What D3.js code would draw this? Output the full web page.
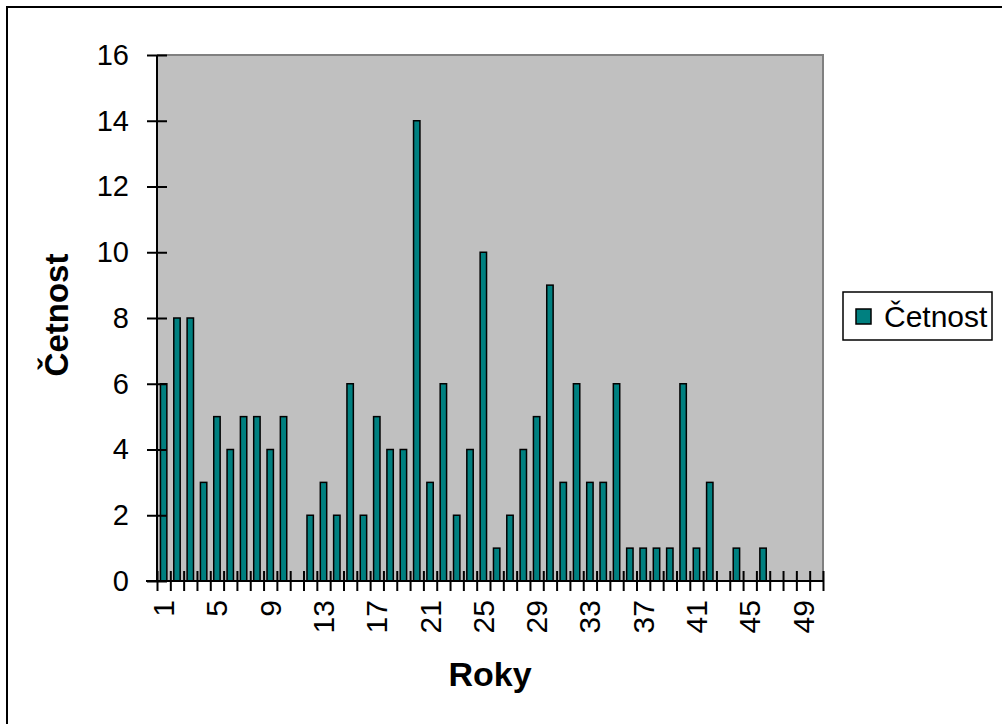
<!DOCTYPE html>
<html>
<head>
<meta charset="utf-8">
<script src="https://cdn.jsdelivr.net/npm/d3@7"></script>
<style>
  body { margin: 0; background: #fff; }
  svg text { font-family: "Liberation Sans", Arial, sans-serif; }
</style>
</head>
<body>
<div id="chart"></div>
<script>
// years 1..50 and their counts
const years = d3.range(1, 51);
const counts = [6, 8, 8, 3, 5, 4, 5, 5, 4, 5,
                0, 2, 3, 2, 6, 2, 5, 4, 4, 14,
                3, 6, 2, 4, 10, 1, 2, 4, 5, 9,
                3, 6, 3, 3, 6, 1, 1, 1, 1, 6,
                1, 3, 0, 1, 0, 1, 0, 0, 0, 0];
const yTicks = [0, 2, 4, 6, 8, 10, 12, 14, 16];
const xLabels = [1, 5, 9, 13, 17, 21, 25, 29, 33, 37, 41, 45, 49];
const seriesName = "Četnost";

const data = years.map((y, i) => ({ year: y, value: counts[i] }));

const W = 1002, H = 724;
const plot = { left: 157, right: 823, top: 55, bottom: 581 };

const svg = d3.select("#chart")
    .append("svg")
    .attr("width", W)
    .attr("height", H);

// chart border
svg.append("rect")
    .attr("x", 7).attr("y", 7)
    .attr("width", W).attr("height", H)
    .attr("fill", "#fff")
    .attr("stroke", "#000")
    .attr("stroke-width", 2);

const x = d3.scaleBand()
    .domain(years)
    .range([plot.left, plot.right])
    .paddingInner(0.52)
    .paddingOuter(0.26);

const xEdge = d3.scaleLinear()
    .domain([0, years.length])
    .range([plot.left, plot.right]);

const y = d3.scaleLinear()
    .domain([0, 16])
    .range([plot.bottom, plot.top]);

// plot area
svg.append("rect")
    .attr("x", plot.left).attr("y", plot.top)
    .attr("width", plot.right - plot.left)
    .attr("height", plot.bottom - plot.top)
    .attr("fill", "#c0c0c0");

svg.append("path")
    .attr("d", `M${plot.left},${plot.top}H${plot.right}V${plot.bottom}`)
    .attr("fill", "none")
    .attr("stroke", "#808080")
    .attr("stroke-width", 2);

// bars
svg.selectAll(".bar")
    .data(data.filter(d => d.value > 0))
    .join("rect")
    .attr("class", "bar")
    .attr("x", d => x(d.year))
    .attr("y", d => y(d.value))
    .attr("width", x.bandwidth())
    .attr("height", d => y(0) - y(d.value))
    .attr("fill", "#008080")
    .attr("stroke", "#000")
    .attr("stroke-width", 1.5);

// x axis: crossing ticks at category edges
const xAxis = svg.append("g")
    .attr("transform", `translate(0,${plot.bottom})`)
    .call(d3.axisBottom(xEdge)
        .tickValues(d3.range(0, years.length + 1))
        .tickSize(10)
        .tickSizeOuter(0)
        .tickFormat(""));
xAxis.select(".domain").remove();
xAxis.selectAll(".tick line")
    .attr("y1", -10)
    .attr("stroke", "#000")
    .attr("stroke-width", 2);
xAxis.append("line")
    .attr("x1", plot.left - 11).attr("x2", plot.right + 1)
    .attr("stroke", "#000")
    .attr("stroke-width", 2);

const xLab = svg.append("g")
    .attr("transform", `translate(0,${plot.bottom})`)
    .call(d3.axisBottom(x).tickValues(xLabels).tickSize(0));
xLab.select(".domain").remove();
xLab.selectAll("text")
    .attr("font-family", "Liberation Sans, Arial, sans-serif")
    .attr("font-size", "30px")
    .attr("fill", "#000")
    .attr("text-anchor", "end")
    .attr("transform", "translate(0,19) rotate(-90)")
    .attr("x", 0)
    .attr("y", 0)
    .attr("dy", "0.35em");

// y axis: crossing ticks
const yAxis = svg.append("g")
    .attr("transform", `translate(${plot.left},0)`)
    .call(d3.axisLeft(y).tickValues(yTicks).tickSize(10).tickSizeOuter(0).tickPadding(18));
yAxis.select(".domain").remove();
yAxis.selectAll(".tick line")
    .attr("x1", 10)
    .attr("stroke", "#000")
    .attr("stroke-width", 2);
yAxis.selectAll("text")
    .attr("font-family", "Liberation Sans, Arial, sans-serif")
    .attr("font-size", "29px")
    .attr("fill", "#000");
yAxis.append("line")
    .attr("y1", plot.top).attr("y2", plot.bottom)
    .attr("stroke", "#000")
    .attr("stroke-width", 2);

// axis titles
svg.append("text")
    .attr("transform", `translate(68,${(plot.top + plot.bottom) / 2 - 3}) rotate(-90)`)
    .attr("text-anchor", "middle")
    .attr("font-size", "33px")
    .attr("font-weight", "bold")
    .text("Četnost");

svg.append("text")
    .attr("x", (plot.left + plot.right) / 2)
    .attr("y", 686)
    .attr("text-anchor", "middle")
    .attr("font-size", "34px")
    .attr("font-weight", "bold")
    .text("Roky");

// legend
const legend = svg.append("g").attr("transform", "translate(843,292)");
legend.append("rect")
    .attr("width", 149).attr("height", 48)
    .attr("fill", "#fff")
    .attr("stroke", "#000")
    .attr("stroke-width", 1.5);
legend.append("rect")
    .attr("x", 13).attr("y", 17)
    .attr("width", 15).attr("height", 15)
    .attr("fill", "#008080")
    .attr("stroke", "#000")
    .attr("stroke-width", 1.5);
legend.append("text")
    .attr("x", 41).attr("y", 35)
    .attr("font-size", "30px")
    .text(seriesName);
</script>
</body>
</html>
